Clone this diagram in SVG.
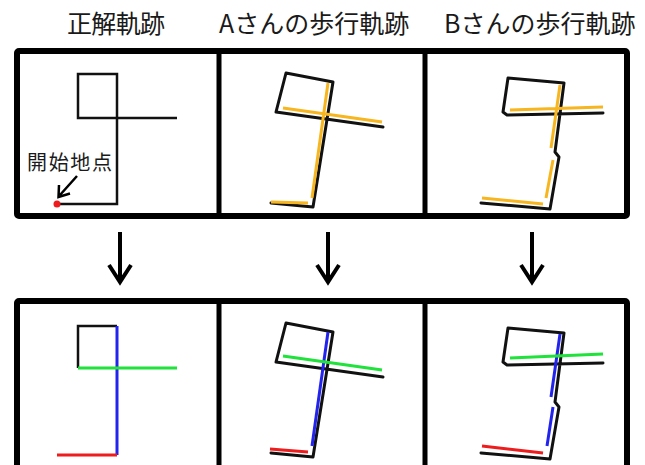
<svg xmlns="http://www.w3.org/2000/svg" width="645" height="465" viewBox="0 0 645 465">
  <style>
    .title { font-family: "Noto Sans CJK JP", "Liberation Sans", sans-serif; font-size: 25px; fill: #1a1a1a; }
    .label { font-family: "Noto Sans CJK JP", sans-serif; font-size: 20px; fill: #1a1a1a; }
    .frame { fill: #ffffff; stroke: #000000; stroke-width: 6; }
    .divider { stroke: #000000; stroke-width: 5; }
    .trk { fill: none; stroke: #111111; stroke-width: 3; stroke-linejoin: round; stroke-linecap: round; }
    .ok { fill: none; stroke: #111111; stroke-width: 2.5; stroke-linejoin: miter; }
    .y { fill: none; stroke: #F7B51E; stroke-width: 3; stroke-linecap: butt; }
    .r { fill: none; stroke: #EE1C1C; stroke-width: 3; }
    .g { fill: none; stroke: #1FE23A; stroke-width: 3; }
    .b { fill: none; stroke: #2323EE; stroke-width: 3; }
    .arr { fill: none; stroke: #000000; stroke-width: 4; stroke-linejoin: miter; }
  </style>
  <defs>
    <path id="downArrow" d="M0 0 V49 M-11 33 L0 50 L11 33" class="arr"/>
  </defs>
  <rect width="645" height="465" fill="#ffffff"/>

  <g id="titles">
    <text class="title" x="67" y="33" textLength="98">正解軌跡</text>
    <text class="title" x="219" y="33">Aさんの歩行軌跡</text>
    <text class="title" x="444" y="33">Bさんの歩行軌跡</text>
  </g>

  <g id="top-frame">
    <rect class="frame" x="17" y="51" width="610" height="165" rx="2"/>
    <line class="divider" x1="219" y1="51" x2="219" y2="216"/>
    <line class="divider" x1="425" y1="51" x2="425" y2="216"/>
  </g>

  <g id="panel-correct-top">
    <path class="ok" d="M57 204 H117 V74 H78 V118 H177"/>
    <circle cx="57" cy="204" r="3.5" fill="#EE1C1C"/>
    <text class="label" x="27" y="170" textLength="85">開始地点</text>
    <path d="M77 176 L60 195 M59 185 L58.5 197 L70 193.5" fill="none" stroke="#000" stroke-width="2.5"/>
  </g>

  <g id="panel-a-top">
    <path class="trk" d="M271 203 L313 207 L333 82 L286 73 L276 112 L383 127"/>
    <path class="y" d="M271 202 L308 203 M312 198 L328 83 M283 108 L382 122"/>
  </g>

  <g id="panel-b-top">
    <path class="trk" d="M481 203 L550 209 L559 157 L555 152 L564 83 L508 78 L503 112 L507 115 L603 113"/>
    <path class="y" d="M482 198 L543 204 M546 198 L553 160 M551 148 L560 85 M510 110 L603 107"/>
  </g>

  <g id="connectors">
    <use href="#downArrow" x="120" y="232"/>
    <use href="#downArrow" x="328" y="232"/>
    <use href="#downArrow" x="532" y="232"/>
  </g>

  <g id="bottom-frame">
    <rect class="frame" x="17" y="301" width="610" height="168" rx="2"/>
    <line class="divider" x1="219" y1="301" x2="219" y2="469"/>
    <line class="divider" x1="425" y1="301" x2="425" y2="469"/>
  </g>

  <g id="panel-correct-bottom">
    <path class="ok" d="M78 368 V326 H117"/>
    <path class="b" d="M117 326 V455"/>
    <path class="g" d="M78 368 H177"/>
    <path class="r" d="M57 455 H117"/>
  </g>

  <g id="panel-a-bottom">
    <path class="trk" d="M271 453 L313 457 L333 332 L286 323 L276 362 L383 377"/>
    <path class="r" d="M270 449 L308 452"/>
    <path class="b" d="M312 446 L328 332"/>
    <path class="g" d="M283 356 L382 370"/>
  </g>

  <g id="panel-b-bottom">
    <path class="trk" d="M481 453 L550 459 L559 407 L555 402 L564 333 L508 328 L503 362 L507 365 L603 363"/>
    <path class="r" d="M482 446 L543 453"/>
    <path class="b" d="M547 446 L553 407 M551 397 L560 334"/>
    <path class="g" d="M510 358 L603 354"/>
  </g>
</svg>
